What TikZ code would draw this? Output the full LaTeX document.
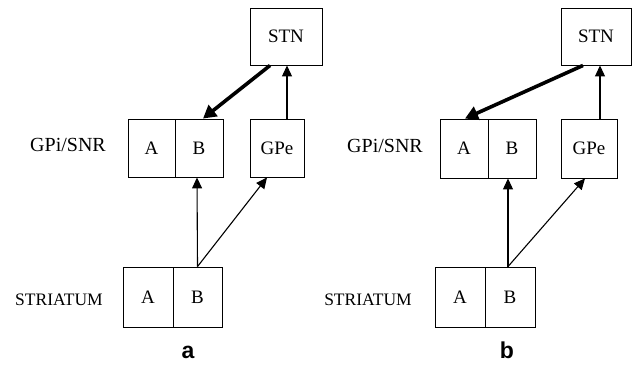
\documentclass[tikz,border=0pt]{standalone}
\usepackage{fontspec}
\setmainfont{Liberation Serif}
\newfontfamily\panelfont{Liberation Sans}
\usetikzlibrary{arrows.meta,calc}
\begin{document}
\begin{tikzpicture}[x=1pt,y=-1pt,
  cell/.style={draw,line width=0.9pt,inner sep=0pt,font=\fontsize{19}{22}\selectfont},
  rowlabel/.style={inner sep=0pt,font=\fontsize{20}{24}\selectfont},
  striatlabel/.style={inner sep=0pt,font=\fontsize{17.5}{21}\selectfont},
  panel/.style={inner sep=0pt,anchor=base,font=\panelfont\bfseries\fontsize{23}{27}\selectfont},
  thin arrow/.style={line width=1.1pt,-{Triangle[length=11pt,width=10pt]}},
  thick arrow/.style={line width=3.6pt,-{Triangle[length=13pt,width=14pt]}}]
\useasboundingbox (0,0) rectangle (636,381);
% ---------- panel a ----------
\node[cell,minimum width=72pt,minimum height=57pt] (stnA) at (286,36.5) {STN};
\node[cell,minimum width=47pt,minimum height=58pt] (gAa) at (151.5,148) {A};
\node[cell,minimum width=48pt,minimum height=58pt] (gAb) at (199,148) {B};
\node[cell,minimum width=54pt,minimum height=58pt] (gpeA) at (277,148) {GPe};
\node[cell,minimum width=50pt,minimum height=60pt] (sAa) at (148,297) {A};
\node[cell,minimum width=49pt,minimum height=60pt] (sAb) at (197.5,297) {B};
\node[rowlabel] (lgA) at (68,145) {GPi/SNR};
\node[striatlabel] (lsA) at (59,300) {STRIATUM};
\node[panel] (pa) at (188,358) {a};
\draw[thick arrow] ([xshift=-16pt]stnA.south) -- ([xshift=4pt]gAb.north);
\draw[thin arrow] ([xshift=10pt]gpeA.north) -- ([xshift=10pt]gpeA.north |- stnA.south);
\draw[thin arrow] (sAb.north) -- ([xshift=-2pt]gAb.south);
\draw[thin arrow] (sAb.north) -- ([xshift=-10pt]gpeA.south);
% ---------- panel b ----------
\node[cell,minimum width=70pt,minimum height=57pt] (stnB) at (596,36.5) {STN};
\node[cell,minimum width=48pt,minimum height=59pt] (gBa) at (464,148.5) {A};
\node[cell,minimum width=48pt,minimum height=59pt] (gBb) at (512,148.5) {B};
\node[cell,minimum width=56pt,minimum height=59pt] (gpeB) at (589,148.5) {GPe};
\node[cell,minimum width=50pt,minimum height=60pt] (sBa) at (460,297) {A};
\node[cell,minimum width=50pt,minimum height=60pt] (sBb) at (510,297) {B};
\node[rowlabel] (lgB) at (385,146) {GPi/SNR};
\node[striatlabel] (lsB) at (368,300) {STRIATUM};
\node[panel] (pb) at (507,358) {b};
\draw[thick arrow] ([xshift=-13pt]stnB.south) -- ([xshift=1pt]gBa.north);
\draw[thin arrow] ([xshift=11pt]gpeB.north) -- ([xshift=11pt]gpeB.north |- stnB.south);
\draw[thin arrow] ([xshift=-2pt]sBb.north) -- ([xshift=-4pt]gBb.south);
\draw[thin arrow] ([xshift=-2pt]sBb.north) -- ([xshift=-4pt]gpeB.south);
\end{tikzpicture}
\end{document}
